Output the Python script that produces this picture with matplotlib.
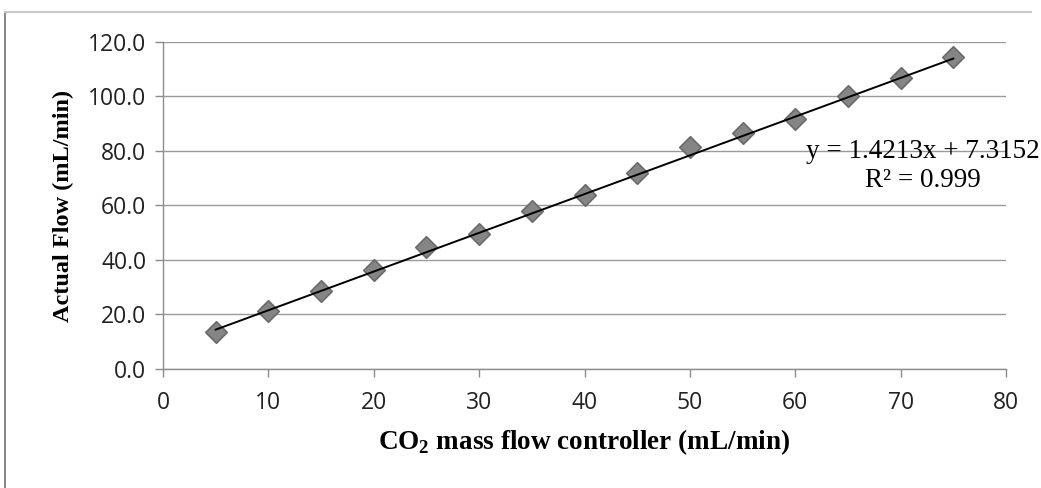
import numpy as np
import matplotlib.pyplot as plt
from matplotlib.lines import Line2D

# data
mfc = [5, 10, 15, 20, 25, 30, 35, 40, 45, 50, 55, 60, 65, 70, 75]
actual = [13.6, 21.3, 28.6, 36.3, 44.8, 49.5, 58.0, 63.9, 71.9, 81.5, 86.6, 91.7, 100.2, 106.8, 114.5]
slope, intercept = 1.4213, 7.3152
r2 = 0.999

fig = plt.figure(figsize=(10.41, 4.88), dpi=100)
ax = fig.add_axes([0.1566, 0.244, 0.8098, 0.670])

ax.scatter(mfc, actual, marker='D', s=120, color='#858585', edgecolors='#6a6a6a',
           linewidths=1.2, zorder=3)
xf = np.array([mfc[0], mfc[-1]])
ax.plot(xf, slope * xf + intercept, color='black', lw=1.4, zorder=4)

ax.set_xlim(0, 80)
ax.set_ylim(0, 120)
ax.set_xticks(np.arange(0, 81, 10))
ax.set_yticks(np.arange(0, 121, 20))
ax.set_yticklabels(['{:.1f}'.format(v) for v in np.arange(0, 121, 20)])
ax.grid(axis='y', color='#9a9a9a', lw=1.0)
ax.set_axisbelow(True)
for s in ['top', 'right']:
    ax.spines[s].set_visible(False)
for s in ['left', 'bottom']:
    ax.spines[s].set_color('#8c8c8c')
    ax.spines[s].set_linewidth(1.0)
ax.tick_params(axis='both', colors='#8c8c8c', length=6, width=1.0,
               labelcolor='#222222', labelsize=16.5)
ax.tick_params(axis='x', pad=10)
ax.tick_params(axis='y', pad=6)
for lab in ax.get_xticklabels() + ax.get_yticklabels():
    lab.set_family('Open Sans')

ax.set_xlabel('CO$_\\mathregular{2}$ mass flow controller (mL/min)', family='Liberation Serif',
              fontweight='bold', fontsize=19.5, labelpad=9)
ax.set_ylabel('Actual Flow (mL/min)', family='Liberation Serif',
              fontweight='bold', fontsize=17.5, labelpad=10)

ax.text(0.887, 0.66, 'y = {:.4f}x + {:.4f}\nR\u00b2 = {}'.format(slope, intercept, r2),
        transform=fig.transFigure, ha='center', va='center', family='Liberation Serif',
        fontsize=19.5, linespacing=1.25)

# frame lines of the scanned page
fig.add_artist(Line2D([0.005, 0.005], [0.0, 0.975], transform=fig.transFigure,
                      color='#707070', lw=1.2))
fig.add_artist(Line2D([0.005, 0.99], [0.975, 0.975], transform=fig.transFigure,
                      color='#c8c8c8', lw=1.5))

fig.savefig('out.png', dpi=100)
